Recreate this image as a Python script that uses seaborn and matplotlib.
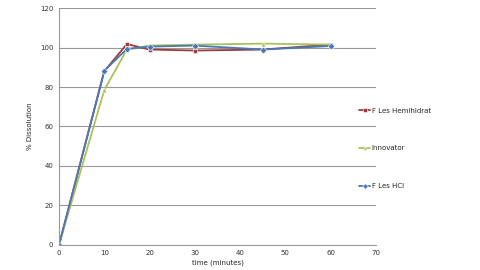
import matplotlib
matplotlib.use("Agg")
import matplotlib.pyplot as plt
import seaborn as sns
import pandas as pd

time = [0, 10, 15, 20, 30, 45, 60]
hemihidrat = [0, 88, 101.8, 99, 98.5, 99, 101.5]
innovator = [0, 78.5, 99, 101, 101.5, 102, 101.5]
hcl = [0, 88.3, 99.3, 100.5, 101, 99, 100.8]
series_names = ["F Les Hemihidrat", "Innovator", "F Les HCl"]

df = pd.concat([
    pd.DataFrame({"time": time, "val": v, "series": n})
    for v, n in zip([hemihidrat, innovator, hcl], series_names)
])

sns.set_theme(style="white")
plt.rcParams['font.family'] = ['DejaVu Sans']

fig = plt.figure(figsize=(4.8, 2.7), dpi=100)
ax = fig.add_axes([0.123, 0.093, 0.66, 0.877])

palette = {"F Les Hemihidrat": "#9B3B3A", "Innovator": "#A9C25A", "F Les HCl": "#4A78B5"}
markers = {"F Les Hemihidrat": "s", "Innovator": "^", "F Les HCl": "D"}
sns.lineplot(data=df, x="time", y="val", hue="series", style="series",
             palette=palette, markers=markers, dashes=False, linewidth=1.3,
             markersize=3.5, markeredgewidth=0.4, ax=ax, legend=True)

ax.set_xlim(0, 70)
ax.set_ylim(0, 120)
ax.set_xticks(range(0, 71, 10))
ax.set_yticks(range(0, 121, 20))
ax.tick_params(axis="both", labelsize=5, length=2, pad=2, colors="#333333")
ax.yaxis.grid(True, color="#999999", linewidth=0.8)
ax.xaxis.grid(False)
for s in ["top", "right"]:
    ax.spines[s].set_visible(False)
for s in ["left", "bottom"]:
    ax.spines[s].set_color("#999999")
    ax.spines[s].set_linewidth(0.8)
ax.set_xlabel("time (minutes)", fontsize=5, labelpad=2)
ax.set_ylabel("% Dissolution", fontsize=5, labelpad=5)

handles, labels = ax.get_legend_handles_labels()
ax.get_legend().remove()
fig.legend(handles, labels, loc="center left", bbox_to_anchor=(0.735, 0.45),
           frameon=False, fontsize=5, labelspacing=4.6, handlelength=1.6,
           handletextpad=0.2, markerscale=0.8)

fig.savefig("out.png", dpi=100)
